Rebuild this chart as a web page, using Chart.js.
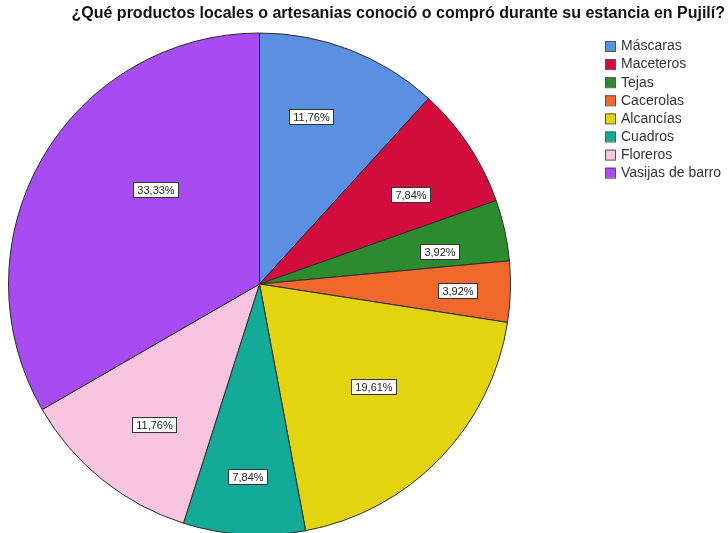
<!DOCTYPE html>
<html lang="es">
<head>
<meta charset="utf-8">
<title>Productos locales o artesanías - Pujilí</title>
<script src="https://cdn.jsdelivr.net/npm/chart.js@4.4.0/dist/chart.umd.min.js"></script>
<style>
  html, body { margin: 0; padding: 0; background: #fff; }
  #grafico { display: block; }
</style>
</head>
<body>
<canvas id="grafico" width="728" height="533"></canvas>
<script>
const titulo = '¿Qué productos locales o artesanias conoció o compró durante su estancia en Pujilí?';
const categorias = ['Máscaras', 'Maceteros', 'Tejas', 'Cacerolas', 'Alcancías', 'Cuadros', 'Floreros', 'Vasijas de barro'];
const porcentajes = [11.76, 7.84, 3.92, 3.92, 19.61, 7.84, 11.76, 33.33];
const colores = ['#5b8fe2', '#d20d3d', '#2e8a2e', '#f0682b', '#e2d411', '#13ab98', '#f8c4df', '#a64cf2'];

// etiquetas con coma decimal, como en la salida de SPSS
const formato = v => v.toFixed(2).replace('.', ',') + '%';

// título alineado a la derecha del lienzo
const pluginTitulo = {
  id: 'tituloSpss',
  afterDraw(chart, args, opts) {
    const ctx = chart.ctx;
    ctx.save();
    ctx.font = 'bold ' + opts.size + 'px "Liberation Sans", Arial, sans-serif';
    ctx.fillStyle = '#111';
    ctx.textAlign = 'right';
    ctx.textBaseline = 'middle';
    ctx.fillText(opts.text, opts.derecha, opts.y);
    ctx.restore();
  }
};

// leyenda en la esquina superior derecha
const pluginLeyenda = {
  id: 'leyendaSpss',
  afterDraw(chart, args, opts) {
    const ctx = chart.ctx;
    const ds = chart.data.datasets[0];
    ctx.save();
    ctx.font = opts.size + 'px "Liberation Sans", Arial, sans-serif';
    ctx.textBaseline = 'middle';
    chart.data.labels.forEach((lab, i) => {
      const y = opts.y + i * opts.paso;
      ctx.fillStyle = ds.backgroundColor[i];
      ctx.fillRect(opts.x, y - 5, 10, 10);
      ctx.strokeStyle = '#555';
      ctx.lineWidth = 1;
      ctx.strokeRect(opts.x + 0.5, y - 4.5, 10, 10);
      ctx.fillStyle = '#333';
      ctx.fillText(lab, opts.x + 16, y + 0.5);
    });
    ctx.restore();
  }
};

// recuadros blancos con el porcentaje de cada sector
const pluginEtiquetas = {
  id: 'etiquetasSpss',
  afterDatasetsDraw(chart, args, opts) {
    const ctx = chart.ctx;
    const meta = chart.getDatasetMeta(0);
    const valores = chart.data.datasets[0].data;
    ctx.save();
    ctx.font = '11px "Liberation Sans", Arial, sans-serif';
    ctx.textAlign = 'center';
    ctx.textBaseline = 'middle';
    meta.data.forEach((arc, i) => {
      const p = arc.getProps(['x', 'y', 'startAngle', 'endAngle', 'outerRadius'], true);
      const ajuste = opts.ajustes[i] || { r: 0.7, a: 0 };
      const ang = (p.startAngle + p.endAngle) / 2 + ajuste.a * Math.PI / 180;
      const cx = p.x + Math.cos(ang) * p.outerRadius * ajuste.r;
      const cy = p.y + Math.sin(ang) * p.outerRadius * ajuste.r;
      const txt = formato(valores[i]);
      const w = Math.round(ctx.measureText(txt).width) + 8;
      const h = 15;
      const x0 = Math.round(cx - w / 2) + 0.5;
      const y0 = Math.round(cy - h / 2) + 0.5;
      ctx.fillStyle = '#fff';
      ctx.fillRect(x0, y0, w, h);
      ctx.strokeStyle = '#333';
      ctx.lineWidth = 1;
      ctx.strokeRect(x0, y0, w, h);
      ctx.fillStyle = '#222';
      ctx.fillText(txt, x0 + w / 2, y0 + h / 2 + 0.5);
    });
    ctx.restore();
  }
};

new Chart(document.getElementById('grafico'), {
  type: 'pie',
  data: {
    labels: categorias,
    datasets: [{
      data: porcentajes,
      backgroundColor: colores,
      borderColor: '#2b2b2b',
      borderWidth: 1
    }]
  },
  plugins: [pluginEtiquetas, pluginTitulo, pluginLeyenda],
  options: {
    responsive: false,
    animation: false,
    events: [],
    radius: 251,
    layout: { padding: { top: 35, left: 8, right: 217, bottom: 0 } },
    plugins: {
      legend: { display: false },
      tooltip: { enabled: false },
      title: { display: false },
      tituloSpss: { text: titulo, size: 16, derecha: 725, y: 14 },
      leyendaSpss: { x: 605, y: 46, paso: 18.1, size: 14 },
      etiquetasSpss: {
        ajustes: [
          { r: 0.70, a: -4 },
          { r: 0.70, a: 3 },
          { r: 0.73, a: 2 },
          { r: 0.79, a: 0 },
          { r: 0.61, a: -2 },
          { r: 0.77, a: 0 },
          { r: 0.70, a: -2 },
          { r: 0.56, a: 12 }
        ]
      }
    }
  }
});
</script>
</body>
</html>
